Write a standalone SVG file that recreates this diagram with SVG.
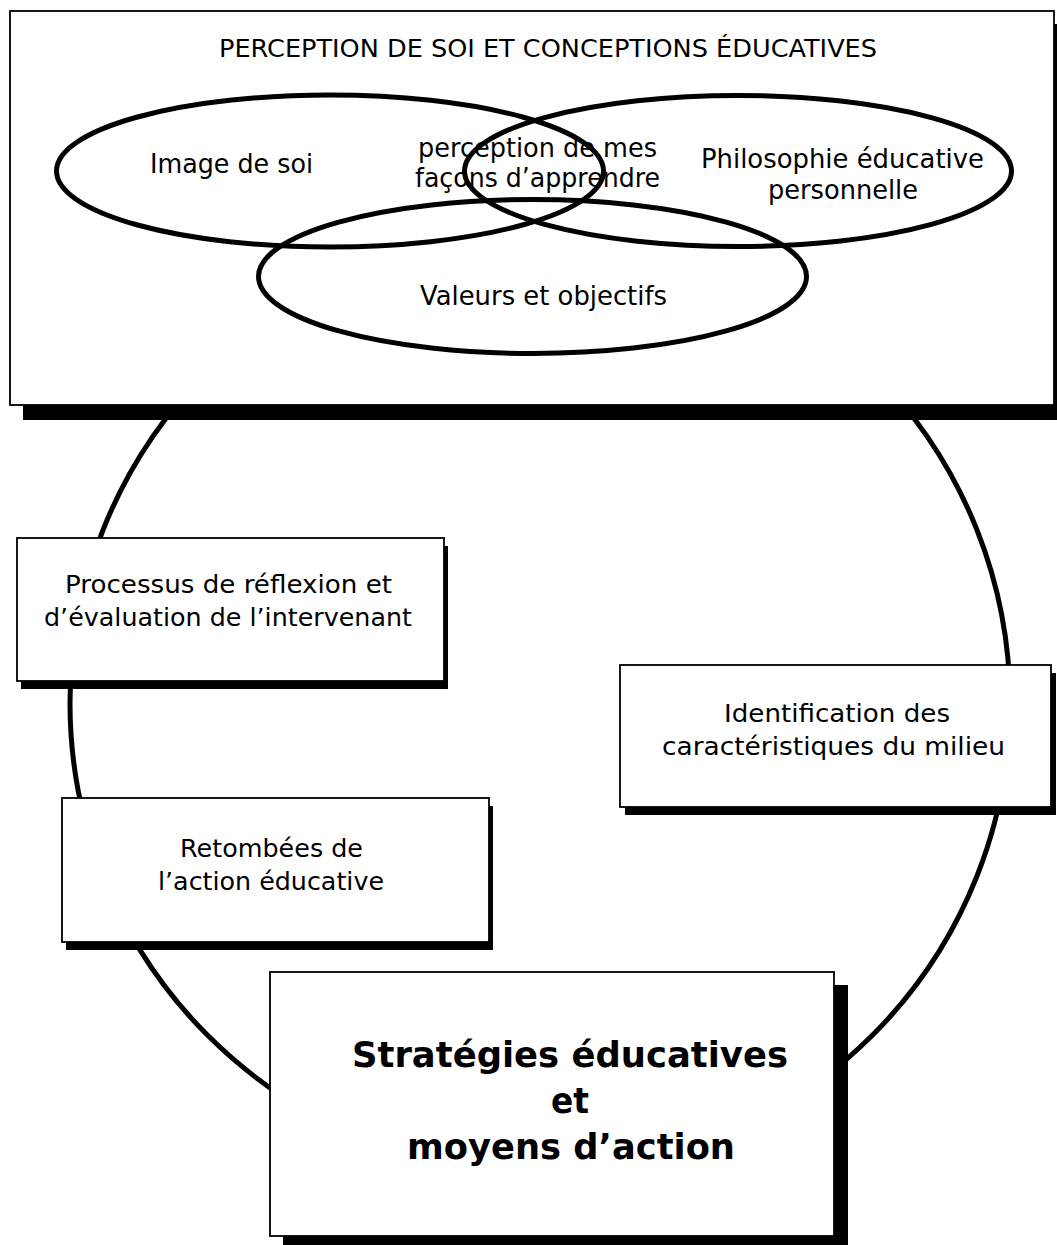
<svg xmlns="http://www.w3.org/2000/svg" width="1057" height="1245" viewBox="0 0 1057 1245">
<style>
.t{font-family:"DejaVu Sans","Liberation Sans",sans-serif;font-size:25px;fill:#000}
.v{font-size:27px}
.b{font-family:"DejaVu Sans","Liberation Sans",sans-serif;font-size:36px;font-weight:bold;fill:#000}
.box{fill:#fff;stroke:#000;stroke-width:1.8}
.sh{fill:#000}
.ell{fill:none;stroke:#000;stroke-width:5}
</style>
<rect width="1057" height="1245" fill="#fff"/>
<g id="connectors">
<circle cx="540" cy="703" r="470" fill="none" stroke="#000" stroke-width="5"/>
</g>
<g id="perception">
<rect class="sh" x="23" y="24" width="1045" height="396"/>
<rect class="box" x="10" y="11" width="1044" height="394"/>
<text class="t" x="219" y="57" font-size="26" textLength="658" lengthAdjust="spacingAndGlyphs">PERCEPTION DE SOI ET CONCEPTIONS ÉDUCATIVES</text>
</g>
<g id="image-de-soi">
<ellipse class="ell" cx="330" cy="171" rx="273.5" ry="76"/>
<text class="t v" x="150" y="173" textLength="163" lengthAdjust="spacingAndGlyphs">Image de soi</text>
</g>
<g id="philosophie">
<ellipse class="ell" cx="738" cy="171" rx="273.5" ry="75.5"/>
<text class="t v" x="701" y="168" textLength="283" lengthAdjust="spacingAndGlyphs">Philosophie éducative</text>
<text class="t v" x="768" y="199" textLength="150" lengthAdjust="spacingAndGlyphs">personnelle</text>
</g>
<g id="valeurs">
<ellipse class="ell" cx="532.5" cy="276.5" rx="274" ry="77"/>
<text class="t v" x="420" y="305" textLength="247" lengthAdjust="spacingAndGlyphs">Valeurs et objectifs</text>
</g>
<g id="facons">
<text class="t v" x="418" y="157" textLength="239" lengthAdjust="spacingAndGlyphs">perception de mes</text>
<text class="t v" x="415" y="187" textLength="245" lengthAdjust="spacingAndGlyphs">façons d’apprendre</text>
</g>
<g id="processus">
<rect class="sh" x="21" y="546" width="427" height="143"/>
<rect class="box" x="17" y="538" width="427" height="143"/>
<text class="t" x="65" y="593" textLength="327" lengthAdjust="spacingAndGlyphs">Processus de réflexion et</text>
<text class="t" x="44" y="626" textLength="368" lengthAdjust="spacingAndGlyphs">d’évaluation de l’intervenant</text>
</g>
<g id="identification">
<rect class="sh" x="625" y="673" width="431" height="142"/>
<rect class="box" x="620" y="665" width="431" height="142"/>
<text class="t" x="724" y="722" textLength="226" lengthAdjust="spacingAndGlyphs">Identification des</text>
<text class="t" x="662" y="755" textLength="343" lengthAdjust="spacingAndGlyphs">caractéristiques du milieu</text>
</g>
<g id="retombees">
<rect class="sh" x="66" y="806" width="427" height="144"/>
<rect class="box" x="62" y="798" width="427" height="144"/>
<text class="t" x="180" y="857" textLength="183" lengthAdjust="spacingAndGlyphs">Retombées de</text>
<text class="t" x="158" y="890" textLength="226" lengthAdjust="spacingAndGlyphs">l’action éducative</text>
</g>
<g id="strategies">
<rect class="sh" x="283" y="985" width="565" height="264"/>
<rect class="box" x="270" y="972" width="564" height="264"/>
<text class="b" x="352" y="1067" textLength="436" lengthAdjust="spacingAndGlyphs">Stratégies éducatives</text>
<text class="b" x="551" y="1113" textLength="38" lengthAdjust="spacingAndGlyphs">et</text>
<text class="b" x="407" y="1159" textLength="328" lengthAdjust="spacingAndGlyphs">moyens d’action</text>
</g>
</svg>
